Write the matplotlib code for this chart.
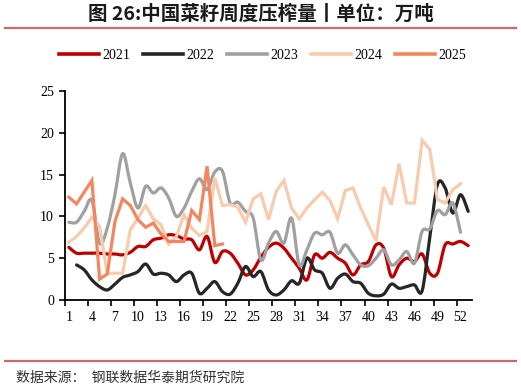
import numpy as np
import matplotlib
matplotlib.use("Agg")
import matplotlib.pyplot as plt
from matplotlib.path import Path
from matplotlib.patches import PathPatch
from matplotlib.lines import Line2D

weeks = list(range(1, 54))

s2021 = [6.3, 5.6, 5.6, 5.6, 5.6, 5.5, 5.5, 5.4, 5.7, 6.4, 6.4, 7.2, 7.4, 7.8, 7.7, 7.3,
         7.2, 6.0, 7.6, 4.5, 5.8, 5.6, 4.4, 3.0, 3.6, 5.1, 6.3, 6.8, 6.2, 5.0, 3.8, 2.4,
         5.4, 5.0, 5.7, 5.0, 4.4, 3.0, 4.2, 4.6, 6.6, 6.2, 2.8, 4.2, 5.0, 4.6, 5.5, 3.2,
         3.2, 6.6, 6.7, 7.0, 6.5]
s2022 = [None, 4.2, 3.6, 2.4, 1.6, 1.2, 1.9, 2.7, 3.0, 3.4, 4.3, 3.1, 3.2, 3.0, 2.2, 3.0,
         3.2, 0.8, 1.4, 2.2, 1.0, 0.7, 2.0, 4.0, 2.8, 3.4, 1.2, 0.6, 1.2, 2.3, 2.0, 5.0,
         3.6, 3.2, 1.4, 2.6, 3.1, 2.2, 2.0, 0.8, 0.5, 0.7, 1.9, 1.4, 1.6, 1.8, 1.1, 7.5,
         13.8, 13.4, 10.4, 12.6, 10.6]
s2023 = [9.3, 9.3, 10.6, 11.9, 6.8, 8.6, 12.6, 17.5, 14.0, 11.0, 13.6, 12.8, 13.4, 12.2,
         10.0, 11.0, 13.0, 14.5, 13.2, 15.3, 15.4, 11.6, 11.7, 10.6, 9.8, 4.8, 6.8, 8.2,
         6.8, 9.8, 4.2, 6.0, 8.0, 7.8, 8.1, 5.6, 6.6, 5.4, 4.2, 4.1, 5.0, 6.0, 4.2, 4.8,
         5.8, 4.4, 8.2, 8.5, 10.7, 10.2, 11.6, 8.1, None]
s2024 = [6.9, 7.6, 8.6, 9.9, 8.8, 3.2, 3.2, 3.2, 8.4, 9.8, 11.3, 9.7, 9.0, 6.7, 7.6, 10.2,
         8.6, 7.7, 8.2, 14.6, 11.3, 11.4, 11.1, 9.3, 12.1, 12.7, 9.6, 13.0, 14.3, 11.0,
         9.7, 11.0, 12.0, 12.9, 11.9, 9.7, 13.1, 13.4, 11.0, 9.0, 7.1, 13.5, 11.4, 16.3,
         11.6, 11.6, 19.1, 18.0, 12.0, 11.6, 13.2, 13.9, None]
s2025 = [12.3, 11.5, 12.9, 14.3, 2.5, 3.1, 9.4, 12.1, 11.3, 9.6, 8.7, 9.2, 7.9, 7.0, 7.0,
         7.0, 10.7, 9.6, 16.0, 6.5, 6.7]

labels = ["2021", "2022", "2023", "2024", "2025"]
colors = ["#C00000", "#262626", "#A0A0A0", "#F8CBAD", "#F4865F"]
smooth = [True, True, True, False, False]
series = [s2021, s2022, s2023, s2024, s2025]

title = "图 26:中国菜籽周度压榨量丨单位：万吨"
source = "数据来源：  钢联数据华泰期货研究院"
xtick_labels = list(range(1, 53, 3))
yticks = [0, 5, 10, 15, 20, 25]

plt.rcParams['font.family'] = ['Liberation Serif', 'DejaVu Serif']

fig = plt.figure(figsize=(5.21, 3.90), dpi=100)
ax = fig.add_axes([0.1248, 0.2308, 0.9060 - 0.1248, 0.7667 - 0.2308])


def smooth_path(xs, ys):
    pts = np.column_stack([xs, ys])
    n = len(pts)
    verts = [tuple(pts[0])]
    codes = [Path.MOVETO]
    for i in range(n - 1):
        p0 = pts[i - 1] if i > 0 else pts[i]
        p1 = pts[i]
        p2 = pts[i + 1]
        p3 = pts[i + 2] if i + 2 < n else pts[i + 1]
        c1 = p1 + (p2 - p0) / 6.0
        c2 = p2 - (p3 - p1) / 6.0
        verts += [tuple(c1), tuple(c2), tuple(p2)]
        codes += [Path.CURVE4, Path.CURVE4, Path.CURVE4]
    return Path(verts, codes)


for vals, col, sm in zip(series, colors, smooth):
    xs = [w for w, v in zip(weeks, vals) if v is not None]
    ys = [v for v in vals if v is not None]
    if sm:
        patch = PathPatch(smooth_path(xs, ys), facecolor='none', edgecolor=col,
                          lw=2.3, capstyle='round', joinstyle='round')
        ax.add_patch(patch)
    else:
        ax.plot(xs, ys, color=col, lw=2.3, solid_joinstyle='miter')

ax.set_xlim(0.5, 53.5)
ax.set_ylim(0, 25)
ax.set_yticks(yticks)
ax.set_yticklabels([str(t) for t in yticks], fontsize=10)
ax.set_xticks([0.5 + 3 * k for k in range(18)])
ax.set_xticklabels([])
ax.set_xticks(xtick_labels, minor=True)
ax.set_xticklabels([str(t) for t in xtick_labels], minor=True, fontsize=10)
ax.tick_params(axis='x', which='minor', length=0, pad=8)
ax.tick_params(axis='x', which='major', length=4, width=1.2, direction='out')
ax.tick_params(axis='y', length=4, width=1.2, direction='out', pad=4)
for s in ['top', 'right']:
    ax.spines[s].set_visible(False)
for s in ['left', 'bottom']:
    ax.spines[s].set_linewidth(1.3)
    ax.spines[s].set_color('black')

handles = [Line2D([0], [0], color=c, lw=2.6) for c in colors]
fig.legend(handles, labels, loc='center', bbox_to_anchor=(0.504, 0.857), ncol=5,
           frameon=False, fontsize=10, handlelength=2.9, handletextpad=0.25,
           columnspacing=0.9, borderpad=0, borderaxespad=0)

fig.text(0.5, 0.963, title, ha='center', va='center', fontsize=14, fontweight='bold',
         family=['Noto Sans CJK SC', 'DejaVu Sans'], color='#1a1a1a')
fig.add_artist(Line2D([0.01, 0.99], [0.928, 0.928], color='#C0504D', lw=1.6, alpha=0.85))
fig.add_artist(Line2D([0.01, 0.99], [0.074, 0.074], color='#C0504D', lw=1.6, alpha=0.85))
fig.text(0.031, 0.031, source, ha='left', va='center', fontsize=10,
         family=['Noto Sans CJK SC', 'DejaVu Sans'], color='#333333')

fig.savefig('out.png', dpi=100)
